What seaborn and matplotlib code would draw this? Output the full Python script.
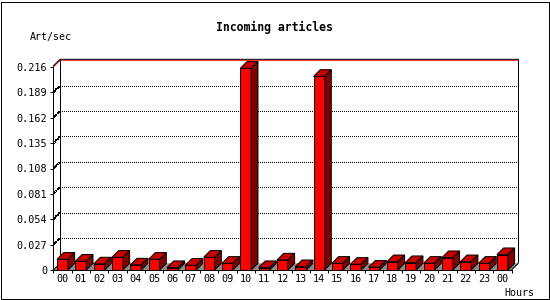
import numpy as np
import pandas as pd
import matplotlib
matplotlib.use("Agg")
import matplotlib.pyplot as plt
from matplotlib.patches import Polygon, Rectangle
from matplotlib.transforms import offset_copy
import seaborn as sns

# ---- data ----
hours = ["00", "01", "02", "03", "04", "05", "06", "07", "08", "09", "10", "11",
         "12", "13", "14", "15", "16", "17", "18", "19", "20", "21", "22", "23", "00"]
rates = [0.0114, 0.0093, 0.0064, 0.0135, 0.0053, 0.0114, 0.0025, 0.0050, 0.0135,
         0.0071, 0.2146, 0.0025, 0.0106, 0.0035, 0.2060, 0.0071, 0.0060, 0.0029,
         0.0088, 0.0078, 0.0071, 0.0131, 0.0088, 0.0071, 0.0163]
yticks = [0, 0.027, 0.054, 0.081, 0.108, 0.135, 0.162, 0.189, 0.216]
ytick_labels = ["0", "0.027", "0.054", "0.081", "0.108", "0.135", "0.162", "0.189", "0.216"]
title = "Incoming articles"
y_label = "Art/sec"
x_label = "Hours"

sns.set_style("white")
plt.rcParams['font.family'] = ['DejaVu Sans Mono']

W, H = 550, 300
fig = plt.figure(figsize=(5.5, 3), dpi=100)
fig.patch.set_facecolor("white")
L, R, B, T = 53.3, 522, 270, 58
ax = fig.add_axes([L / W, 1 - B / H, (R - L) / W, (B - T) / H])
ax.patch.set_alpha(0)

slot = 18.33
ppu = 203 / 0.216
x0 = -0.5
n = len(rates)
xend = n - 0.5
depth = 6.7
dx = depth / slot
dy = depth / ppu
LW = 0.72

df = pd.DataFrame({"pos": np.arange(n), "rate": rates})
sns.barplot(data=df, x="pos", y="rate", native_scale=True, width=0.6,
            color="#ff0000", saturation=1, edgecolor="black", linewidth=LW,
            ax=ax, zorder=4)

ax.set_xlim(x0, x0 + (R - L) / slot)
ax.set_ylim(0, (B - T) / ppu)
ax.set_xlabel("")
ax.set_ylabel("")

# floor
floor = Polygon([(x0, 0), (xend, 0), (xend + dx, dy), (x0 + dx, dy)],
                closed=True, facecolor="#8c8c8c", edgecolor="none", zorder=1)
ax.add_patch(floor)
ax.plot([xend, xend + dx], [0, dy], color="black", lw=LW, zorder=2, clip_on=False)
ax.plot([x0, x0 + dx], [0, dy], color="black", lw=LW, zorder=2, clip_on=False)

# back wall grid + side wall diagonals (crisp dotted)
for t in yticks[1:-1]:
    ax.plot([x0 + dx, xend + dx], [t + dy, t + dy], color="black", lw=0.72,
            ls=(0, (1, 2)), zorder=1, antialiased=False)
    ax.plot([x0, x0 + dx], [t, t + dy], color="black", lw=0.72,
            ls=(0, (1, 2)), zorder=1, antialiased=False)

top = yticks[-1]
ax.plot([x0, x0 + dx, xend + dx], [top, top + dy, top + dy], color="red",
        lw=LW, zorder=2, clip_on=False)
up = offset_copy(ax.transData, fig=fig, x=0, y=1, units='dots')
ax.plot([x0, x0 + dx, xend + dx], [top, top + dy, top + dy], color="black",
        lw=LW, zorder=2, clip_on=False, transform=up)
# wall verticals
ax.plot([x0 + dx, x0 + dx], [dy, top + dy], color="black", lw=LW, zorder=2, clip_on=False)
ax.plot([xend + dx, xend + dx], [dy, top + dy], color="black", lw=LW, zorder=2,
        clip_on=False, transform=up)

# 3D faces of bars
for p in ax.patches:
    if p is floor:
        continue
    bx0 = p.get_x()
    bx1 = bx0 + p.get_width()
    h = p.get_height()
    top_face = Polygon([(bx0, h), (bx1, h), (bx1 + dx, h + dy), (bx0 + dx, h + dy)],
                       closed=True, facecolor="#c80000", edgecolor="black",
                       lw=LW, zorder=4)
    side_face = Polygon([(bx1, 0), (bx1 + dx, dy), (bx1 + dx, h + dy), (bx1, h)],
                        closed=True, facecolor="#800000", edgecolor="black",
                        lw=LW, zorder=4)
    ax.add_patch(top_face)
    ax.add_patch(side_face)

# axes / ticks
for s in ["top", "right"]:
    ax.spines[s].set_visible(False)
ax.spines["left"].set_bounds(0, top)
ax.spines["bottom"].set_bounds(x0, xend)
for s in ["left", "bottom"]:
    ax.spines[s].set_color("black")
    ax.spines[s].set_linewidth(LW)
    ax.spines[s].set_zorder(5)

ax.set_yticks(yticks, ytick_labels)
ax.tick_params(axis="y", length=2.2, width=LW, pad=2, labelsize=7.3,
               colors="black", left=True)
ax.set_xticks(np.arange(n), hours)
ax.set_xticks(np.arange(n + 1) - 0.5, minor=True)
ax.tick_params(axis="x", which="major", length=0, pad=3, labelsize=7.3, colors="black")
ax.tick_params(axis="x", which="minor", length=2.2, width=LW, colors="black", bottom=True)

# texts
fig.text(274 / W, 1 - 27 / H, title, ha="center", va="center",
         fontsize=8.3, fontweight="bold", color="black")
fig.text(30 / W, 1 - 37 / H, y_label, ha="left", va="center", fontsize=7.2, color="black")
fig.text(504 / W, 1 - 293 / H, x_label, ha="left", va="center", fontsize=7.2, color="black")

# border
fig.add_artist(Rectangle((0.5 / W, 1.5 / H), 548 / W, 297 / H, transform=fig.transFigure,
                         fill=False, edgecolor="black", lw=LW))

fig.savefig("out.png", dpi=100, facecolor="white")
